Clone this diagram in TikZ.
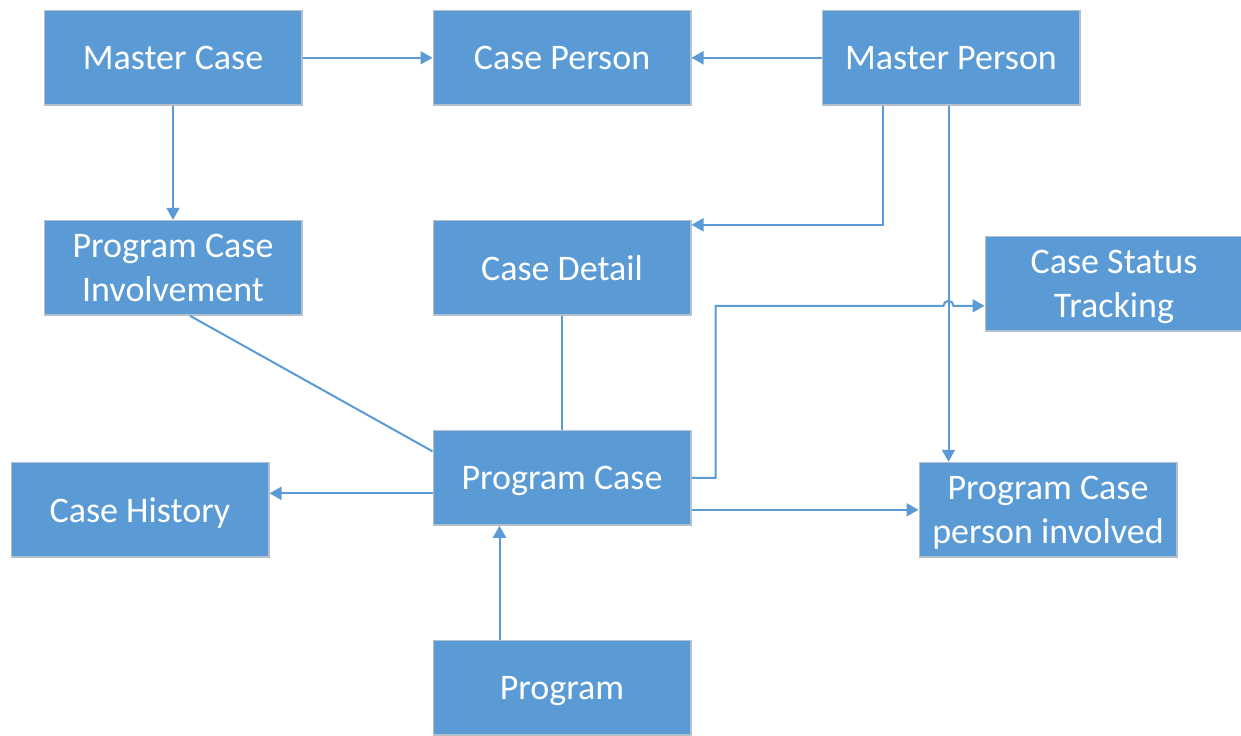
\documentclass[tikz,border=0pt]{standalone}
\usepackage{fontspec}
\setmainfont{Carlito}
\usetikzlibrary{positioning,arrows.meta}
\definecolor{boxblue}{HTML}{5B9BD5}
\definecolor{boxedge}{HTML}{B4C0CC}
\begin{document}
\begin{tikzpicture}
                [box/.style={rectangle,draw=boxedge,line width=0.7pt,fill=boxblue,text=white,
                minimum width=128.8pt,minimum height=47.3pt,inner sep=0pt,align=center,
                text depth=0pt,font=\fontsize{18}{21.6}\selectfont},
                link/.style={draw=boxblue,line width=1pt},
                arr/.style={link,-{Triangle[length=6pt,width=6.5pt]}},
                node distance=57pt and 65pt]
                \useasboundingbox (0,0) rectangle (620.5pt,-367.5pt);
                \node[box] (mcase) at (86.5pt,-28.9pt) {Master Case};
                \node[box] (cperson)[right=of mcase]{Case Person};
                \node[box] (mperson)[right=of cperson]{Master Person};
                \node[box] (pcinv)[below=of mcase]{Program Case\\Involvement};
                \node[box] (cdetail)[below=of cperson]{Case Detail};
                \node[box] (pcase)[below=of cdetail]{Program Case};
                \node[box] (prog)[below=of pcase]{Program};
                \node[box] (chist)[left=81.5pt of pcase,yshift=-16pt]{Case History};
                \node[box] (pcpinv)[right=113.5pt of pcase,yshift=-16pt]{Program Case\\person involved};
                \node[box] (cstat)[right=146.5pt of cdetail,yshift=-8pt]{Case Status\\Tracking};
                % helper points
                \coordinate (mpdown) at ([xshift=-1.25pt]mperson.south);
                \coordinate (cstin) at ([yshift=-11pt]cstat.west);
                \coordinate (hop) at (mpdown |- cstin);
                \path[arr] (mcase) -- (cperson);
                \path[arr] (mperson) -- (cperson);
                \path[arr] (mcase) -- (pcinv);
                \path[arr] ([xshift=-34.25pt]mperson.south) |- ([yshift=-2.5pt]cdetail.north east);
                \path[arr] (mpdown) -- (mpdown |- pcpinv.north);
                \path[link] ([xshift=8.5pt]pcinv.south) -- ([yshift=13.25pt]pcase.west);
                \path[link] (cdetail) -- (pcase);
                % line hop over the vertical connector
                \path[arr] (pcase.east) -- ++(12pt,0) |- ([xshift=-2.5pt]hop)
                            arc[start angle=180,end angle=0,radius=2.5pt] -- (cstin);
                \path[arr] ([yshift=-7.75pt]pcase.west) -- ([yshift=-7.75pt]pcase.west -| chist.east);
                \path[arr] (pcpinv.west -| pcase.east) -- (pcpinv.west);
                \path[arr] ([xshift=-31.25pt]prog.north) -- ([xshift=-31.25pt]pcase.south);
\end{tikzpicture}
\end{document}
